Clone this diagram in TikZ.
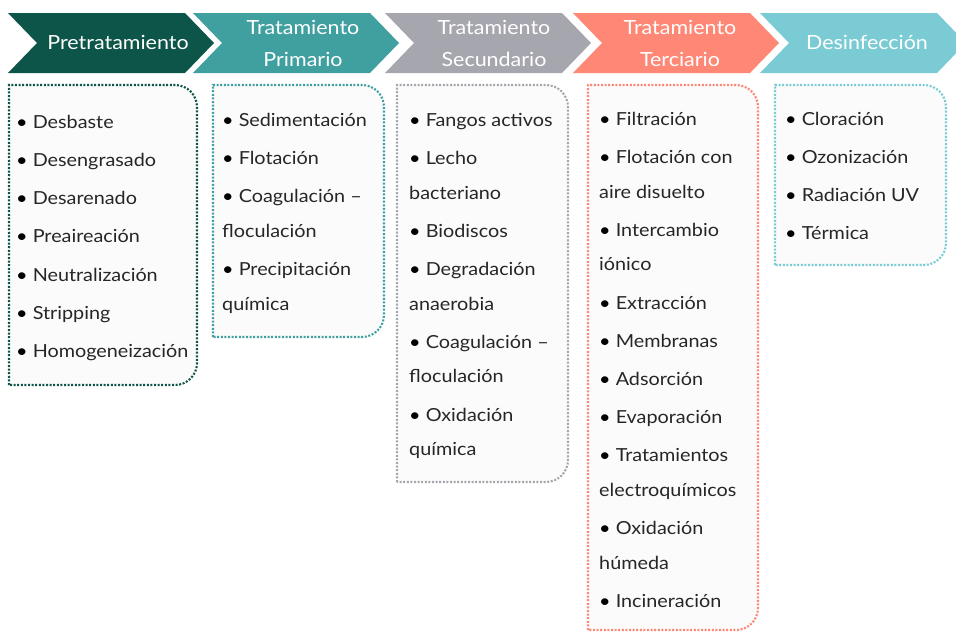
\documentclass[tikz,border=0pt]{standalone}
\usepackage{fontspec}
\setmainfont{Lato}[FakeStretch=1.1]
\usetikzlibrary{calc}
\definecolor{pre}{HTML}{0D5549}
\definecolor{pri}{HTML}{40A0A0}
\definecolor{sec}{HTML}{A6A6AE}
\definecolor{ter}{HTML}{FF8776}
\definecolor{des}{HTML}{7ACBD4}
\definecolor{txt}{HTML}{262626}
\definecolor{boxbg}{HTML}{FBFBFB}
\tikzset{ t/.style = { align = center % title on the arrow
, text = white
, inner sep = 0pt
, font = \fontsize{19.5}{32}\selectfont
}
, l/.style = { align = left % list of steps
, anchor = north west
, inner sep = 0pt
, text = txt
, font = \fontsize{18}{34.6}\selectfont
}
, b/.style = { line width = 2.1pt % dotted box
, dash pattern = on 2pt off 1.6pt
, fill = boxbg
}
}
\def\bl{{\color{black}\textbullet}\ }
\def\chev(#1)#2{% arrow of one stage
\fill[#2] (#1,13) -- ++(177,0) -- ++(29,30) -- ++(-29,30) -- (#1,73) -- ++(29,-30) -- cycle;
}
\def\stage(#1,#2,#3)#4{% dotted box of one stage
\draw[b, draw=#4] (#1,#3) -- (#1,85) -- ($(#2,85)+(-22,0)$)
arc[start angle=-90, end angle=0, radius=22] -- ($(#2,#3)+(0,-22)$)
arc[start angle=0, end angle=90, radius=22] -- cycle;
}

\begin{document}
\begin{tikzpicture}[x=1pt, y=-1pt]
\useasboundingbox (0,0) rectangle (956,632);
\begin{scope}
\clip (0,0) rectangle (956,632);
\foreach[count=\n] \x/\c in {8/pre, 193/pri, 385/sec, 573/ter, 760/des} \chev(\x){\c};
\end{scope}
\node[t] (c1) at (118,42) {Pretratamiento};
\node[t] (c2) at (303,43) {Tratamiento\\Primario};
\node[t] (c3) at (494,43) {Tratamiento\\Secundario};
\node[t] (c4) at (680,43) {Tratamiento\\Terciario};
\node[t] (c5) at (867,42) {Desinfección};

\stage(9,197,385){pre}
\stage(213,384,337){pri}
\stage(397,568,482){sec}
\stage(588,758,630){ter}
\stage(775,946,265){des}

\node[l] (p1) at (16,114) {\rule{0pt}{14pt}\bl Desbaste\\[3.6pt] \bl Desengrasado\\[3.6pt] \bl Desarenado\\[3.6pt]
\bl Preaireación\\[3.6pt] \bl Neutralización\\[3.6pt] \bl Stripping\\[3.6pt] \bl Homogeneización};
\node[l] (p2) at (222,112) {\rule{0pt}{14pt}\bl Sedimentación\\[3.6pt] \bl Flotación\\[3.6pt] \bl Coagulación –\\
floculación\\[3.6pt] \bl Precipitación\\ química};
\node[l] (p3) at (409,112) {\rule{0pt}{14pt}\bl Fangos activos\\[3.6pt] \bl Lecho\\ bacteriano\\[3.6pt] \bl Biodiscos\\[3.6pt]
\bl Degradación\\ anaerobia\\[3.6pt] \bl Coagulación –\\ floculación\\[3.6pt] \bl Oxidación\\ química};
\node[l] (p4) at (599,111) {\rule{0pt}{14pt}\bl Filtración\\[3.6pt] \bl Flotación con\\ aire disuelto\\[3.6pt] \bl Intercambio\\ iónico\\[3.6pt]
\bl Extracción\\[3.6pt] \bl Membranas\\[3.6pt] \bl Adsorción\\[3.6pt] \bl Evaporación\\[3.6pt]
\bl Tratamientos\\ electroquímicos\\[3.6pt] \bl Oxidación\\ húmeda\\[3.6pt] \bl Incineración};
\node[l] (p5) at (785,111) {\rule{0pt}{14pt}\bl Cloración\\[3.6pt] \bl Ozonización\\[3.6pt] \bl Radiación UV\\[3.6pt] \bl Térmica};
\end{tikzpicture}
\end{document}
